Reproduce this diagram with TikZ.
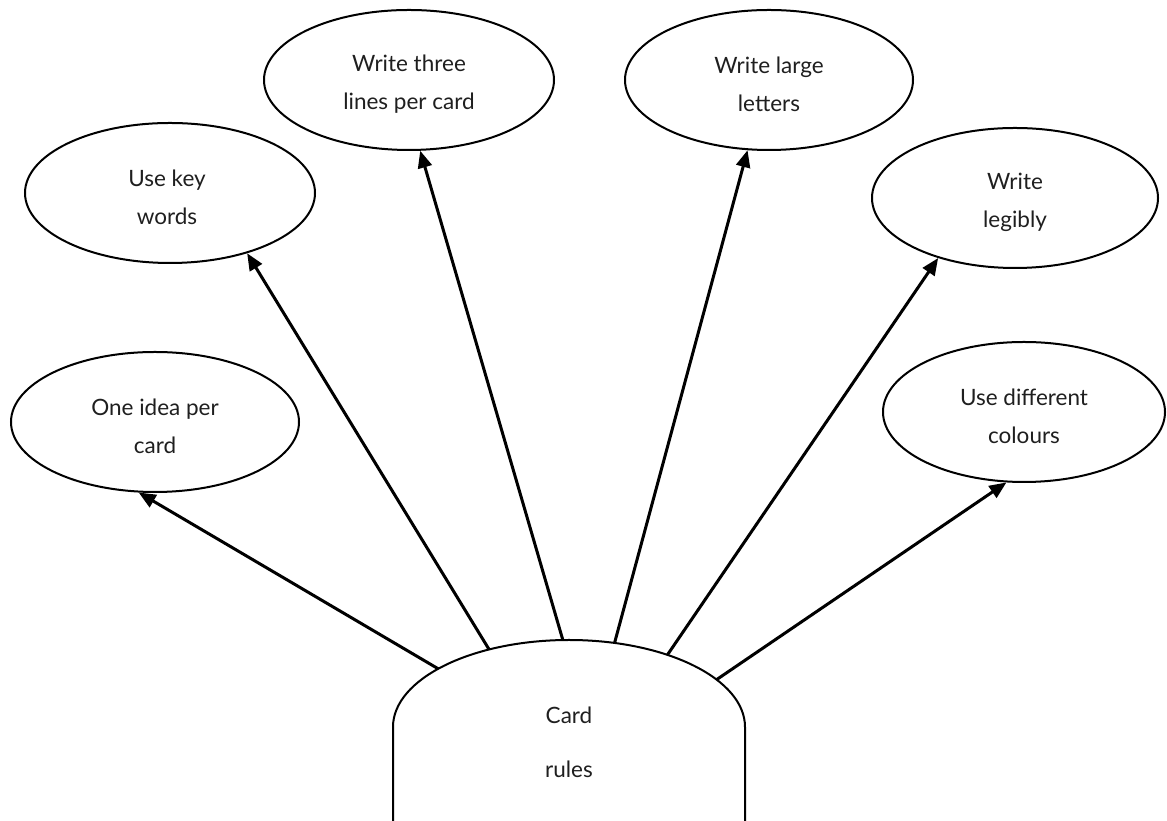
\documentclass[tikz,border=0pt]{standalone}
\usepackage{fontspec}
\setmainfont{Lato}
\usetikzlibrary{arrows.meta,shapes.geometric,calc}
\begin{document}
\begin{tikzpicture}[x=1pt,y=1pt,
  bubble/.style={draw,ellipse,line width=2pt,inner sep=0pt,minimum height=140pt},
  btxt/.style={align=center,inner sep=0pt,font=\fontsize{22.5}{38}\selectfont,text=black!88},
  cardtxt/.style={align=center,font=\fontsize{22.5}{54}\selectfont,text=black!88},
  link/.style={line width=3pt,-{Triangle[length=17pt,width=14pt]}},
  cardline/.style={line width=2pt},
  ]
\useasboundingbox (0,0) rectangle (1167,821);
\node[bubble,minimum width=288pt] (e1) at (155,399) {};
\node[bubble,minimum width=290pt] (e2) at (170,628) {};
\node[bubble,minimum width=290pt] (e3) at (409,741) {};
\node[bubble,minimum width=288pt] (e4) at (769,741) {};
\node[bubble,minimum width=286pt] (e5) at (1015,623) {};
\node[bubble,minimum width=282pt] (e6) at (1024,409) {};
\node[btxt] (t1) at ([yshift=-4pt]e1.center) {One idea per\\card};
\node[btxt] (t2) at ([xshift=-3pt,yshift=-4pt]e2.center) {Use key\\words};
\node[btxt] (t3) at ([yshift=-4pt]e3.center) {Write three\\lines per card};
\node[btxt] (t4) at ([yshift=-4pt]e4.center) {Write large\\letters};
\node[btxt] (t5) at ([yshift=-4pt]e5.center) {Write\\legibly};
\node[btxt] (t6) at ([yshift=-4pt]e6.center) {Use different\\colours};
\coordinate (cc) at (569,94);
\coordinate (cl) at (393,0);
\coordinate (cr) at (745,0);
\draw[cardline] (cl) -- (393,94) arc[start angle=180,end angle=0,x radius=176,y radius=87] -- (cr);
\node[cardtxt] (card) at (569,79) {Card\\rules};
\coordinate (s1) at ($(cc)+(138:176 and 87)$);
\coordinate (s2) at ($(cc)+(117:176 and 87)$);
\coordinate (s3) at ($(cc)+(92:176 and 87)$);
\coordinate (s4) at ($(cc)+(75:176 and 87)$);
\coordinate (s5) at ($(cc)+(56:176 and 87)$);
\coordinate (s6) at ($(cc)+(33:176 and 87)$);
\draw[link] (s1) -- (e1.-103);
\draw[link] (s2) -- (e2.-38);
\draw[link] (s3) -- (e3.-81);
\draw[link] (s4) -- (e4.-107);
\draw[link] (s5) -- (e5.-142);
\draw[link] (s6) -- (e6.-104);
\end{tikzpicture}
\end{document}
